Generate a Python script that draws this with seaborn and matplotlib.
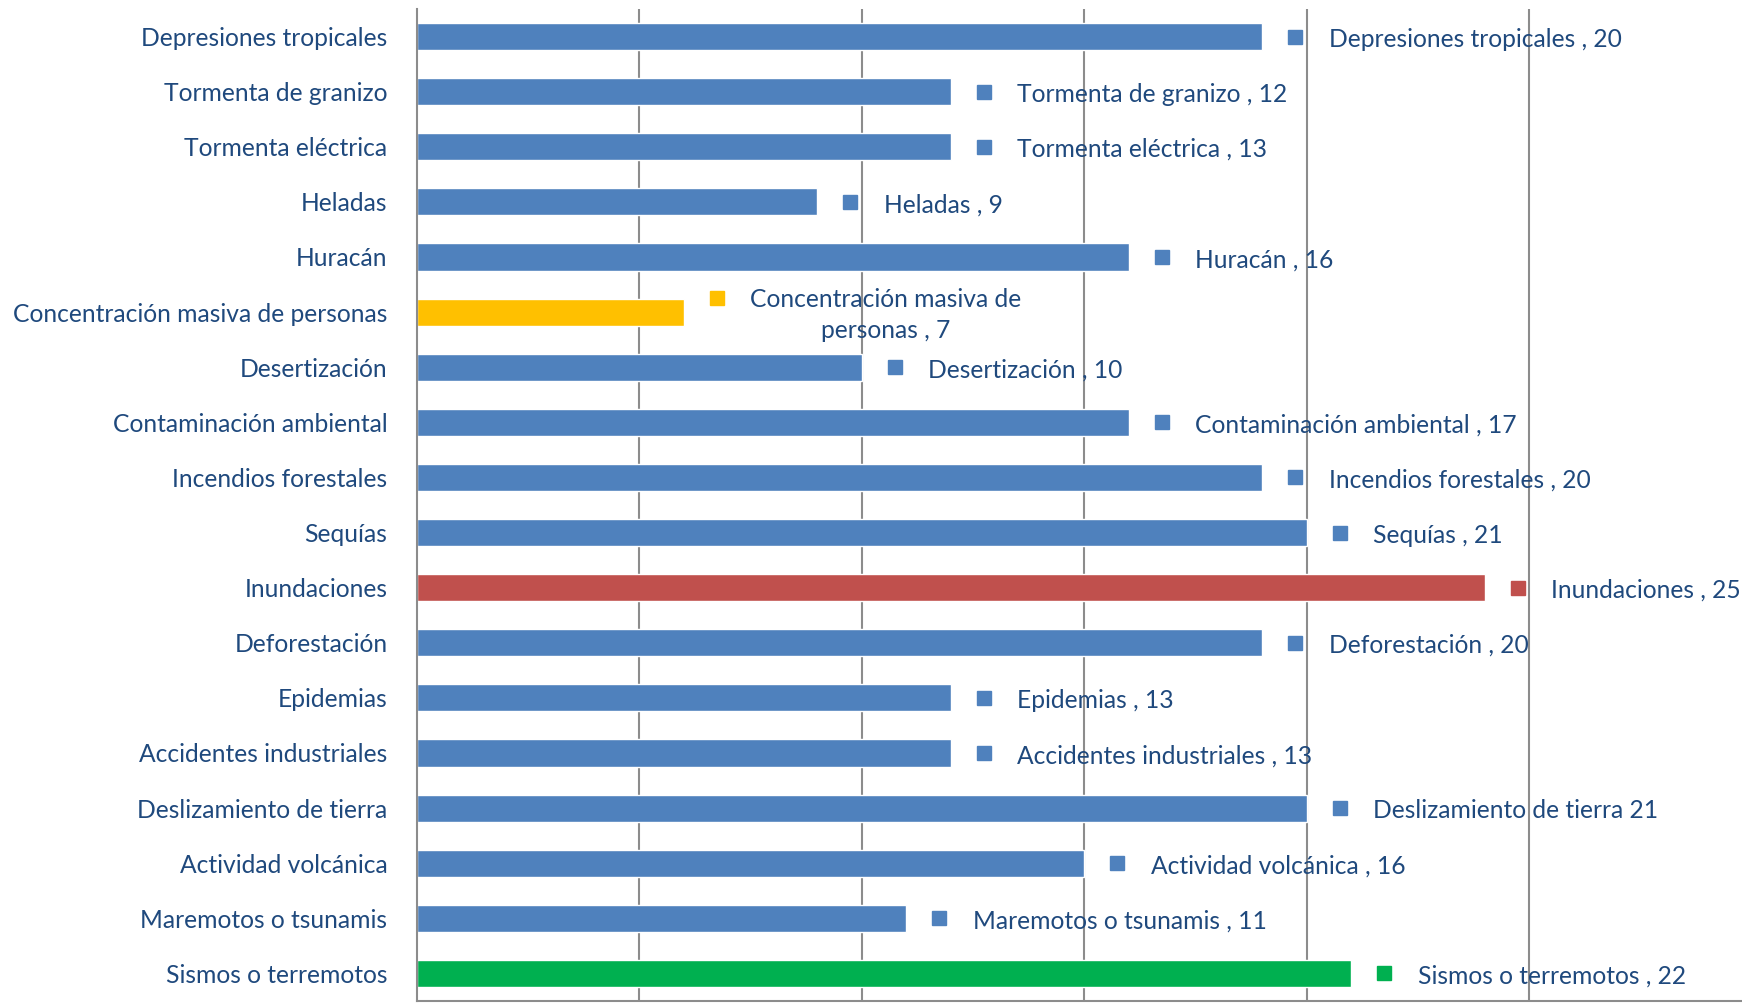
import numpy as np
import pandas as pd
import matplotlib
matplotlib.use('Agg')
import matplotlib.pyplot as plt
import seaborn as sns
from matplotlib.ticker import FixedLocator

sns.set_style('white')
plt.rcParams['font.family'] = ['Lato', 'DejaVu Sans']

categories = ['Depresiones tropicales', 'Tormenta de granizo', 'Tormenta eléctrica',
              'Heladas', 'Huracán', 'Concentración masiva de personas', 'Desertización',
              'Contaminación ambiental', 'Incendios forestales', 'Sequías', 'Inundaciones',
              'Deforestación', 'Epidemias', 'Accidentes industriales',
              'Deslizamiento de tierra', 'Actividad volcánica', 'Maremotos o tsunamis',
              'Sismos o terremotos']
bar_values = [19, 12, 12, 9, 16, 6, 10, 16, 19, 20, 24, 19, 12, 12, 20, 15, 11, 21]
label_texts = ['Depresiones tropicales , 20', 'Tormenta de granizo , 12',
               'Tormenta eléctrica , 13', 'Heladas , 9', 'Huracán , 16',
               'Concentración masiva de\npersonas , 7', 'Desertización , 10',
               'Contaminación ambiental , 17', 'Incendios forestales , 20', 'Sequías , 21',
               'Inundaciones , 25', 'Deforestación , 20', 'Epidemias , 13',
               'Accidentes industriales , 13', 'Deslizamiento de tierra 21',
               'Actividad volcánica , 16', 'Maremotos o tsunamis , 11',
               'Sismos o terremotos , 22']
blue, red, yellow, green = '#4F81BD', '#C0504D', '#FFC000', '#00B050'
bar_colors = [blue] * 18
bar_colors[5] = yellow
bar_colors[10] = red
bar_colors[17] = green

text_color = '#1F497D'
grid_color = '#8C8C8C'
fs = 17.7

df = pd.DataFrame({'cat': categories, 'val': bar_values})

fig = plt.figure(figsize=(17.42, 10.05), dpi=100)
px = 44.5 / 1742  # axes fraction per unit
ax = fig.add_axes([416.6 / 1742, 4 / 1005, 30 * px, 992 / 1005])

sns.barplot(data=df, x='val', y='cat', hue='cat', palette=dict(zip(categories, bar_colors)),
            order=categories, width=0.49, legend=False, ax=ax, saturation=1)

ax.set_xlim(0, 30)
ax.set_ylim(17.5, -0.5)
ax.set_xlabel('')
ax.set_ylabel('')

for x in [5, 10, 15, 20, 25]:
    ax.axvline(x, color=grid_color, lw=1.5, zorder=0)

ax.xaxis.set_major_locator(FixedLocator([0, 5, 10, 15, 20, 25, 30]))
ax.set_xticklabels([])
ax.tick_params(axis='x', direction='out', length=6, color=grid_color, width=1.3)
ax.yaxis.set_minor_locator(FixedLocator(np.arange(-0.5, 18, 1)))
ax.tick_params(axis='y', which='major', length=0, pad=21, labelsize=fs, labelcolor=text_color)
ax.tick_params(axis='y', which='minor', direction='out', length=6, color=grid_color, width=1.3)

for side in ['top', 'right']:
    ax.spines[side].set_visible(False)
for side in ['left', 'bottom']:
    ax.spines[side].set_color(grid_color)
    ax.spines[side].set_linewidth(1.5)

for i, (v, t, c) in enumerate(zip(bar_values, label_texts, bar_colors)):
    my = i - 0.26 if '\n' in t else i
    ax.plot(v + 0.75, my, marker='s', markersize=9.5, color=c, linestyle='none', clip_on=False)
    ax.text(v + 1.5, i + 0.05, t, ha='left', va='center', fontsize=fs, color=text_color,
            multialignment='center', linespacing=1.45, clip_on=False)

fig.savefig('out.png', dpi=100)
